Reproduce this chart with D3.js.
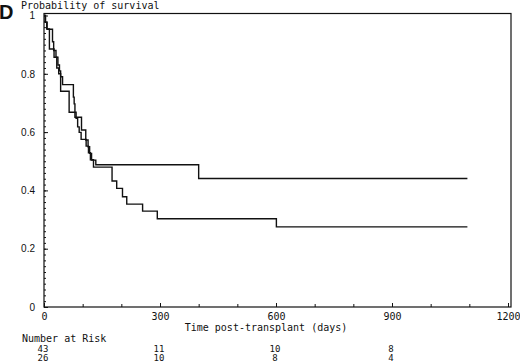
<!DOCTYPE html>
<html lang="en">
<head>
    <meta charset="UTF-8">
    <title>Probability of survival</title>
    <script src="https://d3js.org/d3.v7.min.js"></script>
    <style>
        body { margin: 0; background: #fff; }
        svg { display: block; }
    </style>
</head>
<body>
    <script>
        var width = 520;
        var height = 362;

        // time ticks (days) and survival ticks
        var dayTicks = [0, 300, 600, 900, 1200];
        var survTicks = [0, 0.2, 0.4, 0.6, 0.8, 1];

        // step curve: group A (ends ~0.44)
        var timesA = [0, 4, 8, 22, 25, 31, 36, 40, 43, 48, 76, 78, 80, 97, 108, 114, 118, 123, 134, 400, 1095];
        var survA  = [1, 0.977, 0.953, 0.91, 0.88, 0.857, 0.83, 0.81, 0.79, 0.763, 0.72, 0.697, 0.651, 0.607, 0.573, 0.55, 0.527, 0.504, 0.488, 0.441, 0.441];

        // group B (ends ~0.27)
        var timesB = [0, 3, 7, 14, 26, 33, 38, 43, 65, 83, 87, 91, 96, 109, 115, 120, 128, 176, 188, 203, 214, 255, 293, 601, 1095];
        var survB  = [1, 0.977, 0.954, 0.885, 0.857, 0.82, 0.80, 0.74, 0.668, 0.647, 0.618, 0.599, 0.575, 0.552, 0.529, 0.505, 0.48, 0.432, 0.407, 0.378, 0.353, 0.329, 0.303, 0.275, 0.275];

        // number at risk
        var riskDays = [0, 300, 600, 900];
        var riskA = [43, 11, 10, 8];
        var riskB = [26, 10, 8, 4];

        var mono = "'DejaVu Sans Mono', monospace";
        var ink = "#111";

        var svg = d3.select("body").append("svg")
                    .attr("width", width)
                    .attr("height", height)

        var x = d3.scaleLinear().domain([0, 1200]).range([44, 508]);
        var y = d3.scaleLinear().domain([0, 1]).range([307, 15.5]);

        // frame
        svg.append("rect")
            .attr("x", 44)
            .attr("y", 13.5)
            .attr("width", 467)
            .attr("height", 307 - 13.5)
            .attr("fill", "none")
            .attr("stroke", ink)
            .attr("stroke-width", 1.2)

        // y axis: minor + major ticks pointing inwards
        svg.append("g")
            .attr("transform", "translate(44,0)")
            .call(d3.axisLeft(y).tickValues(d3.range(0, 1.001, 0.02)).tickSize(-2).tickFormat(""))
            .call(g => g.select(".domain").remove())

        svg.append("g")
            .attr("transform", "translate(44,0)")
            .call(d3.axisLeft(y).tickValues(survTicks).tickSize(-4).tickPadding(9).tickFormat(d3.format("")))
            .call(g => g.select(".domain").remove())
            .call(g => g.selectAll("text").attr("font-family", "'Liberation Sans', Arial, sans-serif").attr("font-size", 10))

        // x axis
        svg.append("g")
            .attr("transform", "translate(0,307)")
            .call(d3.axisBottom(x).tickValues(d3.range(0, 1201, 100)).tickSize(-3).tickFormat(""))
            .call(g => g.select(".domain").remove())

        svg.append("g")
            .attr("transform", "translate(0,307)")
            .call(d3.axisBottom(x).tickValues(dayTicks).tickSize(-4).tickPadding(6).tickFormat(d3.format("")))
            .call(g => g.select(".domain").remove())
            .call(g => g.selectAll("text").attr("font-family", mono).attr("font-size", 10))

        svg.selectAll(".tick line").attr("stroke", ink)
        svg.selectAll(".tick text").attr("fill", ink)

        // survival curves
        var line = d3.line()
                     .x(d => x(d[0]))
                     .y(d => y(d[1]))
                     .curve(d3.curveStepAfter)

        var curves = [d3.zip(timesA, survA), d3.zip(timesB, survB)];
        svg.selectAll("path.km")
            .data(curves)
            .join("path")
            .attr("class", "km")
            .attr("d", line)
            .attr("fill", "none")
            .attr("stroke", ink)
            .attr("stroke-width", 1.4)

        // texts
        svg.append("text")
            .attr("x", -1)
            .attr("y", 18.5)
            .attr("font-family", "'Liberation Sans', Arial, sans-serif")
            .attr("font-weight", "bold")
            .attr("font-size", 20)
            .attr("fill", ink)
            .text("D")

        svg.append("text")
            .attr("x", 21)
            .attr("y", 9)
            .attr("font-family", mono)
            .attr("font-size", 10)
            .attr("fill", ink)
            .text("Probability of survival")

        svg.append("text")
            .attr("x", 266)
            .attr("y", 331)
            .attr("text-anchor", "middle")
            .attr("font-family", mono)
            .attr("font-size", 10)
            .attr("fill", ink)
            .text("Time post-transplant (days)")

        svg.append("text")
            .attr("x", 22)
            .attr("y", 342)
            .attr("font-family", mono)
            .attr("font-size", 10)
            .attr("fill", ink)
            .text("Number at Risk")

        var rows = [riskA, riskB];
        rows.forEach(function(row, r) {
            svg.append("g").selectAll("text")
                .data(row)
                .join("text")
                .attr("x", (d, i) => x(riskDays[i]) - 1)
                .attr("y", 351.5 + r * 9)
                .attr("text-anchor", "middle")
                .attr("font-family", mono)
                .attr("font-size", 9)
                .attr("fill", ink)
                .text(d => d)
        })
    </script>
</body>
</html>
